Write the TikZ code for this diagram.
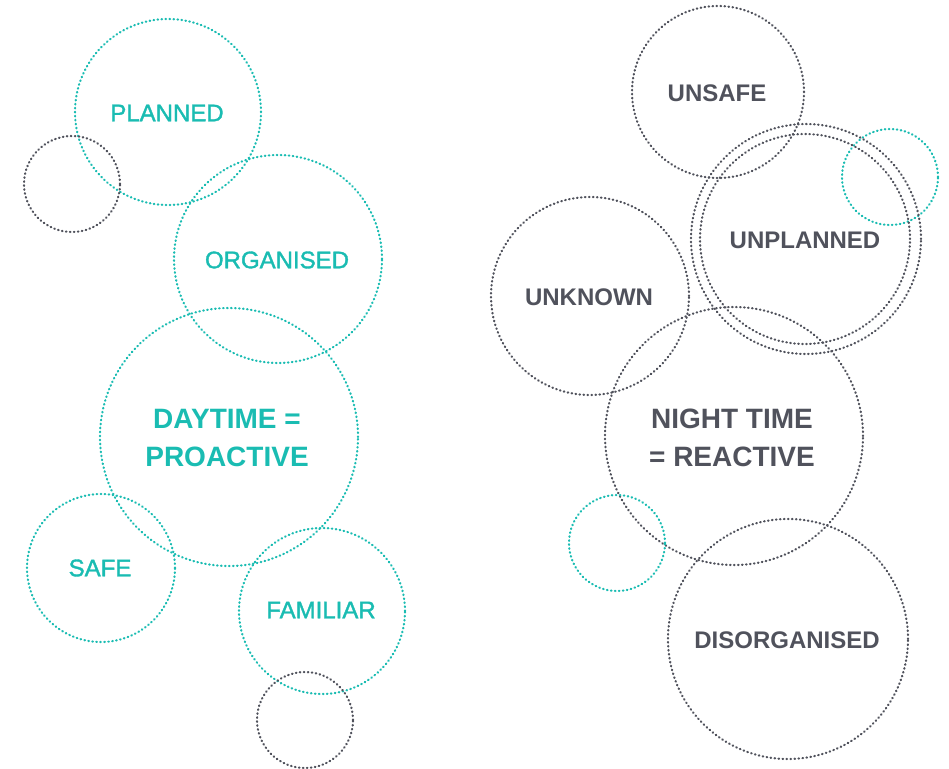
\documentclass[tikz,border=0pt]{standalone}
\usepackage{fontspec}
\setmainfont{Liberation Sans}
\newfontfamily\medfont[FakeBold=1.5]{Liberation Sans}
\definecolor{teal}{RGB}{26,188,178}
\definecolor{slate}{RGB}{80,82,92}
\begin{document}
\begin{tikzpicture}[x=1pt,y=-1pt,
  dotline/.style={line width=2.2pt,line cap=round,dash pattern=on 0.6pt off 3.4pt},
  tring/.style={circle,draw=teal,dotline,inner sep=0pt,minimum size=#1},
  dring/.style={circle,draw=slate,dotline,inner sep=0pt,minimum size=#1},
  tlab/.style={text=teal,font=\fontsize{24}{28}\medfont},
  dlab/.style={text=slate,font=\fontsize{24}{28}\selectfont\bfseries},
  tbig/.style={text=teal,font=\fontsize{28}{38}\selectfont\bfseries,align=center},
  dbig/.style={text=slate,font=\fontsize{28}{38}\selectfont\bfseries,align=center}]
\useasboundingbox (0,0) rectangle (949,768);
% left group
\node[tring=186pt] (planned) at (168,112) {};
\node[dring=96pt] (dl1) at (72,184) {};
\node[tring=208pt] (organised) at (278,259) {};
\node[tring=258pt] (daytime) at (229,437) {};
\node[tring=148pt] (safe) at (101,568) {};
\node[tring=166pt] (familiar) at (322,611) {};
\node[dring=96pt] (dl2) at (305,720) {};
\node[tlab] (tplanned) at (167,113) {PLANNED};
\node[tlab] (torganised) at (277,260) {ORGANISED};
\node[tbig] (tday) at (227,438) {DAYTIME =\\PROACTIVE};
\node[tlab] (tsafe) at (100,568) {SAFE};
\node[tlab] (tfamiliar) at (321,610) {FAMILIAR};
% right group
\node[dring=172pt] (unsafe) at (718,92) {};
\node[tring=96pt] (tr1) at (890,177) {};
\node[dring=230pt] (unplannedA) at (806,239) {};
\node[dring=210pt] (unplannedB) at (805,239) {};
\node[dring=198pt] (unknown) at (590,296) {};
\node[dring=258pt] (night) at (734,436) {};
\node[tring=96pt] (tr2) at (617,543) {};
\node[dring=240pt] (disorg) at (788,639) {};
\node[dlab] (tunsafe) at (717,93) {UNSAFE};
\node[dlab] (tunplanned) at (805,240) {UNPLANNED};
\node[dlab] (tunknown) at (589,297) {UNKNOWN};
\node[dbig] (tnight) at (732,438) {NIGHT TIME\\= REACTIVE};
\node[dlab] (tdisorg) at (787,640) {DISORGANISED};
\end{tikzpicture}
\end{document}
